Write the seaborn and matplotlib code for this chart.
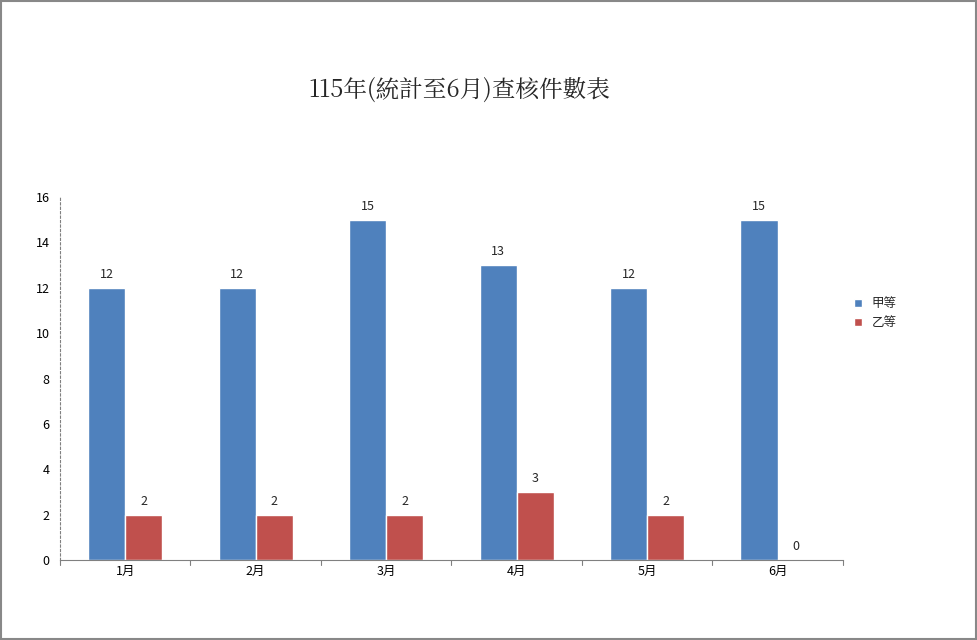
import pandas as pd
import matplotlib.pyplot as plt
import seaborn as sns

months = ["1月", "2月", "3月", "4月", "5月", "6月"]
grade_a = [12, 12, 15, 13, 12, 15]
grade_b = [2, 2, 2, 3, 2, 0]
series = ["甲等", "乙等"]

df = pd.DataFrame({
    "month": months * 2,
    "count": grade_a + grade_b,
    "grade": [series[0]] * len(months) + [series[1]] * len(months),
})

sns.set_style("white")
plt.rcParams['font.family'] = ['Noto Sans CJK TC', 'DejaVu Sans']

fig = plt.figure(figsize=(9.78, 6.4), dpi=100)
ax = fig.add_axes([0.0613, 0.125, 0.8006, 0.567])
sns.barplot(data=df, x="month", y="count", hue="grade", order=months,
            palette=["#4f81bd", "#c0504d"], width=0.57, gap=0, ax=ax,
            saturation=1, errorbar=None)

for cont in ax.containers:
    ax.bar_label(cont, fontsize=9, padding=5)

ax.set_ylim(0, 16)
ax.set_yticks(range(0, 17, 2))
ax.set_xlim(-0.5, 5.5)
ax.set_xlabel("")
ax.set_ylabel("")
ax.tick_params(axis="both", labelsize=9, length=4, direction="out", colors="black")
ax.tick_params(axis="x", length=0)
for s in ["top", "right"]:
    ax.spines[s].set_visible(False)
ax.spines["left"].set_linestyle((0, (2, 2)))
ax.spines["left"].set_color("#808080")
ax.spines["bottom"].set_color("#808080")
for x in [0.5 + i for i in range(-1, 6)]:
    ax.plot([x, x], [0, -0.2], color="#808080", lw=0.8, clip_on=False)

ax.legend(loc="center left", bbox_to_anchor=(1.0, 0.68), frameon=False,
          fontsize=9, handlelength=0.6, handleheight=0.6)

fig.text(0.47, 0.86, "115年(統計至6月)查核件數表", ha="center", va="center",
         fontsize=17, family=['Noto Serif CJK TC', 'Noto Sans CJK TC', 'DejaVu Sans'])

fig.patches.append(plt.Rectangle((0.001, 0.001), 0.997, 0.997, transform=fig.transFigure,
                                 fill=False, edgecolor="#888888", lw=1.5))
fig.savefig("out.png", dpi=100)
